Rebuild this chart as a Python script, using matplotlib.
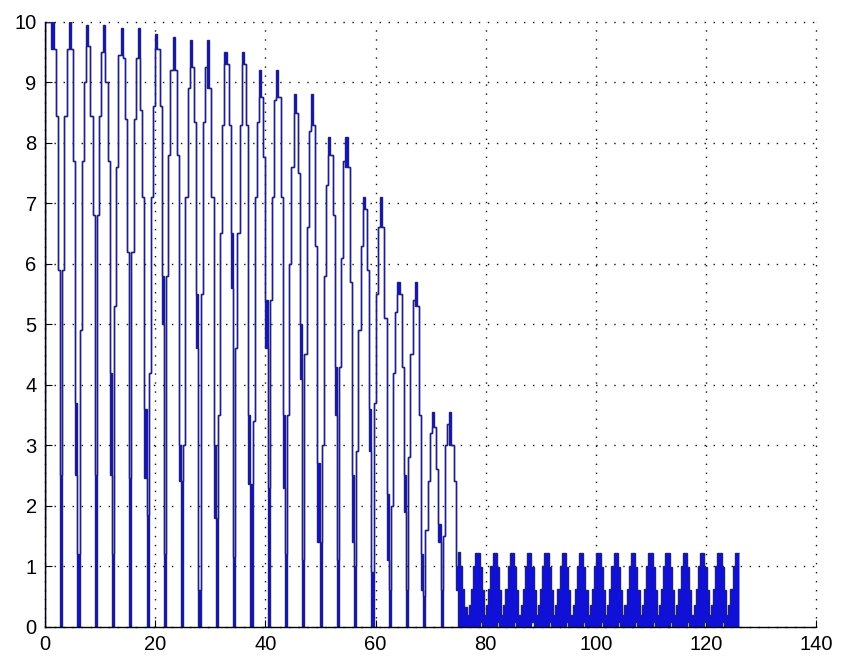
import numpy as np
import matplotlib.pyplot as plt

plt.rcParams['font.family'] = ['Liberation Sans', 'DejaVu Sans']

SAMPLE_DT = 0.3925     # hold interval of the staircase signal
T_START = -0.4         # time of the first held sample

# big pulses, 8 held levels each (first level = top of the chatter band at the trough)
big_levels = [
    [1.5, 10.0, 10.0, 10.0, 10.0, 9.55, 8.45, 5.9],
    [2.5, 5.9, 8.45, 9.55, 10.0, 9.55, 7.7, 3.7],
    [1.2, 4.9, 7.7, 9.0, 9.95, 9.6, 8.45, 6.8],
    [2.5, 6.8, 8.45, 9.5, 9.95, 9.0, 7.7, 4.2],
    [1.2, 5.3, 7.6, 9.45, 9.9, 9.4, 8.4, 6.2],
    [2.45, 6.2, 8.4, 9.4, 9.9, 8.55, 7.1, 3.6],
    [1.85, 4.2, 7.1, 8.6, 9.8, 9.55, 8.6, 5.8],
    [1.2, 5.8, 7.8, 9.2, 9.75, 9.2, 7.8, 3.0],
    [2.4, 3.0, 7.1, 8.9, 9.7, 9.25, 8.35, 5.5],
    [0.6, 5.5, 8.35, 9.25, 9.7, 8.9, 7.1, 3.0],
    [1.8, 3.5, 6.5, 8.3, 9.5, 9.3, 8.3, 6.5],
    [1.15, 4.6, 6.5, 8.3, 9.5, 9.3, 8.3, 3.5],
    [2.35, 3.4, 7.1, 8.35, 9.2, 8.76, 7.77, 5.4],
    [2.3, 5.4, 7.1, 8.7, 9.2, 8.76, 7.1, 3.5],
    [1.2, 3.5, 6.0, 7.6, 8.8, 8.5, 7.5, 5.0],
    [1.1, 4.5, 6.6, 8.2, 8.8, 8.3, 6.3, 2.7],
    [1.4, 3.0, 5.8, 7.3, 8.1, 7.8, 6.8, 4.3],
    [1.1, 4.3, 6.1, 7.7, 8.1, 7.6, 5.7, 2.5],
    [1.0, 2.9, 4.9, 6.3, 7.1, 6.9, 5.9, 3.6],
    [0.9, 3.7, 5.5, 6.6, 7.1, 6.6, 5.1, 2.2],
    [0.6, 2.0, 4.2, 5.2, 5.7, 5.5, 4.3, 2.5],
    [0.6, 2.8, 4.5, 5.4, 5.7, 5.3, 3.5, 1.2],
    [0.5, 1.6, 2.4, 3.2, 3.55, 3.3, 2.6, 1.7],
    [0.6, 1.5, 3.0, 3.35, 3.55, 3.0, 2.4, 1.0],
]
# lower edge of the chatter at each big pulse's peak sample
big_peak_floor = [9.55, 9.55, 9.6, 9.5, 9.45, 9.4, 9.55, 9.2, 9.25, 8.9, 9.3, 9.3,
                  8.76, 8.76, 8.5, 8.3, 7.8, 7.6, 6.9, 6.6, 5.5, 5.3, 3.3, 3.0]
# lower edge of the chatter on each big pulse's last (falling) sample
big_fall_floor = [5.9, 2.5, 6.8, 2.5, 6.2, 2.45, 5.0, 2.4, 4.6, 1.8, 5.6, 2.35,
                  4.6, 2.3, 4.1, 1.4, 3.5, 1.4, 2.9, 1.1, 1.9, 0.6, 1.4, 0.6]

# small pulses after t~75: upper envelope and lower edge of the dense chatter
small_levels = [
    1.24, 1.0, 0.62, 0.33,
    0.2, 0.35, 0.62, 1.0, 1.22, 1.22, 0.99, 0.6,
    0.2, 0.35, 0.62, 1.0, 1.22, 1.22, 0.99, 0.6,
    0.2, 0.35, 0.62, 1.0, 1.22, 1.22, 0.99, 0.6,
    0.2, 0.35, 0.62, 1.0, 1.22, 1.22, 0.99, 0.6,
    0.2, 0.35, 0.62, 1.0, 1.22, 1.22, 0.99, 0.6,
    0.2, 0.35, 0.62, 1.0, 1.22, 1.22, 0.99, 0.6,
    0.2, 0.35, 0.62, 1.0, 1.22, 1.22, 0.99, 0.6,
    0.2, 0.35, 0.62, 1.0, 1.22, 1.22, 0.99, 0.6,
    0.2, 0.35, 0.62, 1.0, 1.22, 1.22, 0.99, 0.6,
    0.2, 0.35, 0.62, 1.0, 1.22, 1.22, 0.99, 0.6,
    0.2, 0.35, 0.62, 1.0, 1.22, 1.22, 0.99, 0.6,
    0.2, 0.35, 0.62, 1.0, 1.22, 1.22, 0.99, 0.6,
    0.2, 0.35, 0.62, 1.0, 1.22, 1.22, 0.99, 0.6,
    0.2, 0.35, 0.62, 1.0, 1.22, 1.22, 0.99, 0.6,
    0.2, 0.35, 0.62, 1.0, 1.22, 1.22, 0.99, 0.6,
    0.2, 0.35, 0.62, 1.0, 1.22, 1.22,
]
small_floor = [
    0.0, 0.0, 0.0, 0.0,
    0.0, 0.0, 0.0, 0.0, 0.0, 0.0, 0.08, 0.0,
    0.0, 0.0, 0.0, 0.0, 0.0, 0.0, 0.08, 0.0,
    0.0, 0.0, 0.0, 0.0, 0.0, 0.0, 0.08, 0.0,
    0.0, 0.0, 0.0, 0.0, 0.0, 0.0, 0.08, 0.0,
    0.0, 0.0, 0.0, 0.0, 0.0, 0.0, 0.08, 0.0,
    0.0, 0.0, 0.0, 0.0, 0.0, 0.0, 0.08, 0.0,
    0.0, 0.0, 0.0, 0.0, 0.0, 0.0, 0.08, 0.0,
    0.0, 0.0, 0.0, 0.0, 0.0, 0.0, 0.08, 0.0,
    0.0, 0.0, 0.0, 0.0, 0.0, 0.0, 0.08, 0.0,
    0.0, 0.0, 0.0, 0.0, 0.0, 0.0, 0.08, 0.0,
    0.0, 0.0, 0.0, 0.0, 0.0, 0.0, 0.08, 0.0,
    0.0, 0.0, 0.0, 0.0, 0.0, 0.0, 0.08, 0.0,
    0.0, 0.0, 0.0, 0.0, 0.0, 0.0, 0.08, 0.0,
    0.0, 0.0, 0.0, 0.0, 0.0, 0.0, 0.08, 0.0,
    0.0, 0.0, 0.0, 0.0, 0.0, 0.0, 0.08, 0.0,
    0.0, 0.0, 0.0, 0.0, 0.0, 0.0,
]

x_ticks = [0, 20, 40, 60, 80, 100, 120, 140]
y_ticks = [0, 1, 2, 3, 4, 5, 6, 7, 8, 9, 10]

# upper / lower edge of the held signal
hi = []
lo = []
for levels, pk_floor, fall_floor in zip(big_levels, big_peak_floor, big_fall_floor):
    for j, v in enumerate(levels):
        hi.append(v)
        if j == 0:
            lo.append(0.0)          # trough chatter down to zero
        elif j == 4:
            lo.append(pk_floor)     # chatter at the peak
        elif j == 7:
            lo.append(fall_floor)   # chatter on the falling edge
        else:
            lo.append(v)
hi += small_levels
lo += small_floor
hi = np.array(hi)
lo = np.array(lo)
edges = T_START + SAMPLE_DT * np.arange(len(hi) + 1)

line_color = '#1e1e88'
fill_color = '#1010d6'

fig = plt.figure(figsize=(8.41, 6.61), dpi=100)
ax = fig.add_axes([0.0535, 0.052, 0.917, 0.915])

ax.fill_between(edges, np.append(lo, lo[-1]), np.append(hi, hi[-1]), step='post',
                color=fill_color, linewidth=0, zorder=2)
ax.stairs(hi, edges, baseline=None, color=line_color, linewidth=1.0, zorder=3)
ax.stairs(lo, edges, baseline=None, color=line_color, linewidth=1.0, zorder=3)

ax.set_xlim(0, 140)
ax.set_ylim(0, 10)
ax.set_xticks(x_ticks)
ax.set_yticks(y_ticks)
ax.spines['top'].set_visible(False)
ax.spines['right'].set_visible(False)
for s in ('left', 'bottom'):
    ax.spines[s].set_linewidth(1.0)
    ax.spines[s].set_zorder(4)
ax.tick_params(direction='in', length=5, width=0.8, labelsize=14.5, colors='black', pad=6)
ax.set_axisbelow(True)
ax.grid(True, linestyle=(0, (1, 5.5)), color='#111111', linewidth=1.0)
for gl in ax.get_xgridlines() + ax.get_ygridlines():
    gl.set_clip_on(False)

fig.savefig('out.png', dpi=100)
